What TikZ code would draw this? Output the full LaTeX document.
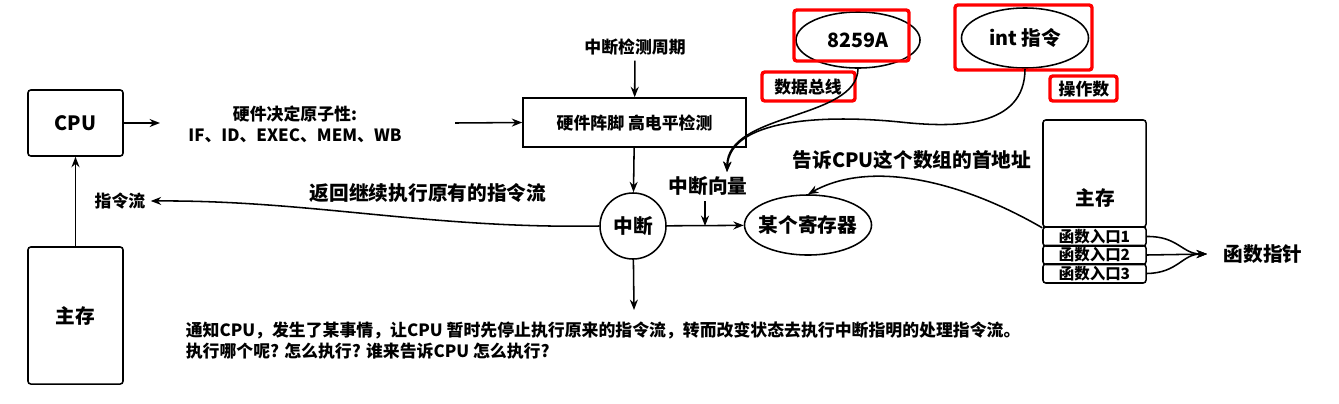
\documentclass[tikz,border=0pt]{standalone}
\usepackage{fontspec}
\setmainfont{Noto Sans CJK SC}
\usetikzlibrary{arrows.meta,shapes.geometric}

\begin{document}
\begin{tikzpicture}[x=0.025cm,y=-0.025cm,line width=1.1pt,
        >={Stealth[length=2.6mm,width=2mm]},
        bigtext/.style={font=\fontsize{14}{17}\selectfont\bfseries},
        smalltext/.style={font=\fontsize{12}{15}\selectfont\bfseries},
        slottext/.style={font=\fontsize{11}{13}\selectfont\bfseries},
        rbox/.style={draw,rounded corners=2pt},
        redbox/.style={draw=red,line width=2.4pt,rounded corners=2pt}]
    \useasboundingbox (0,0) rectangle (1339,403);
    % left side
    \node[rbox,bigtext,minimum width=2.375cm,minimum height=1.65cm] (cpu) at (75.5,123) {CPU};
    \node[rbox,bigtext,minimum width=2.375cm,minimum height=3.425cm] (mem) at (75.5,315.5) {主存};
    \node[smalltext,align=center] (atom) at (295,124) {硬件决定原子性:\\IF、ID、EXEC、MEM、WB};
    \node[smalltext] (flow) at (120,201) {指令流};
    \node[bigtext] (back) at (428,193) {返回继续执行原有的指令流};
    % detection and interrupt
    \node[smalltext] (period) at (635,47) {中断检测周期};
    \node[draw,smalltext,minimum width=5.575cm,minimum height=1.225cm] (detect) at (634.5,122.5) {硬件阵脚 高电平检测};
    \node[draw,circle,bigtext,minimum size=1.65cm,inner sep=0pt] (intr) at (633,226) {中断};
    \node[bigtext] (vec) at (708,186) {中断向量};
    \node[draw,ellipse,bigtext,minimum width=3.175cm,minimum height=1.5cm] (reg) at (808,225) {\makebox[0pt]{某个寄存器}};
    % sources of the vector
    \node[draw,ellipse,bigtext,minimum width=3.1cm,minimum height=1.4cm] (chip) at (858,40) {\makebox[0pt]{8259A}};
    \node[draw,ellipse,bigtext,minimum width=3.175cm,minimum height=1.5cm] (ins) at (1025,38) {\makebox[0pt]{int 指令}};
    \node[smalltext] (bus) at (808,87) {数据总线};
    \node[smalltext] (opnd) at (1084,89) {操作数};
    \draw[redbox] (794,10) rectangle (909,61);
    \draw[redbox] (762,72) rectangle (855,101);
    \draw[redbox] (955,5) rectangle (1092,70);
    \draw[redbox] (1050,76) rectangle (1117,101);
    \node[bigtext] (tell) at (912,160) {告诉CPU这个数组的首地址};
    % main memory with the table
    \node[rbox,minimum width=2.575cm,minimum height=2.675cm] (ram) at (1094.5,173.5) {};
    \node[bigtext] (ramt) at (1095,198) {主存};
    \foreach \i/\y in {1/236.5,2/255,3/273.5}
        \node[rbox,slottext,minimum width=2.575cm,minimum height=0.475cm,inner sep=0pt] (slot\i) at (1094.5,\y) {函数入口\i};
    \node[bigtext] (fptr) at (1263,254) {函数指针};
    \node[smalltext,align=left,anchor=north west,inner sep=0pt] (note) at (185,321)
        {通知CPU，发生了某事情，让CPU 暂时先停止执行原来的指令流，转而改变状态去执行中断指明的处理指令流。\\
         执行哪个呢? 怎么执行? 谁来告诉CPU 怎么执行?};
    \coordinate (a1) at (160,123);
    \coordinate (a2) at (455,123);
    \coordinate (down) at (634,310);
    \coordinate (vtip) at (727,172);
    \coordinate (vbar) at (705,226);
    \coordinate (ftip) at (1207,254);
    % connectors
    \draw[->] (cpu.east) -- (a1);
    \draw[->] (a2) -- (detect.west);
    \draw[->] (mem) -- (cpu);
    \draw[->] (period) -- (detect);
    \draw[->] (detect) -- (intr);
    \draw[->] (intr) -- (down);
    \draw[->] (intr.west) .. controls (430,229) and (310,200) .. (flow.east);
    \draw[->] (intr) -- (reg);
    \draw[->] (vec.south -| vbar) -- (vbar);
    \draw[->] (chip.south) .. controls (857,120) and (727,112) .. (vtip);
    \draw[->] (ins.south) .. controls (1025,128) and (955,128) .. (900,122)
        .. controls (820,114) and (730,120) .. (vtip);
    \draw[->] (ram.south west) .. controls (960,180) and (870,160) .. (reg.north);
    \draw[->] (slot1.east) .. controls (1178,236) and (1182,254) .. (ftip);
    \draw[->] (slot2.east) -- (ftip);
    \draw[->] (slot3.east) .. controls (1178,273) and (1182,254) .. (ftip);
\end{tikzpicture}
\end{document}
